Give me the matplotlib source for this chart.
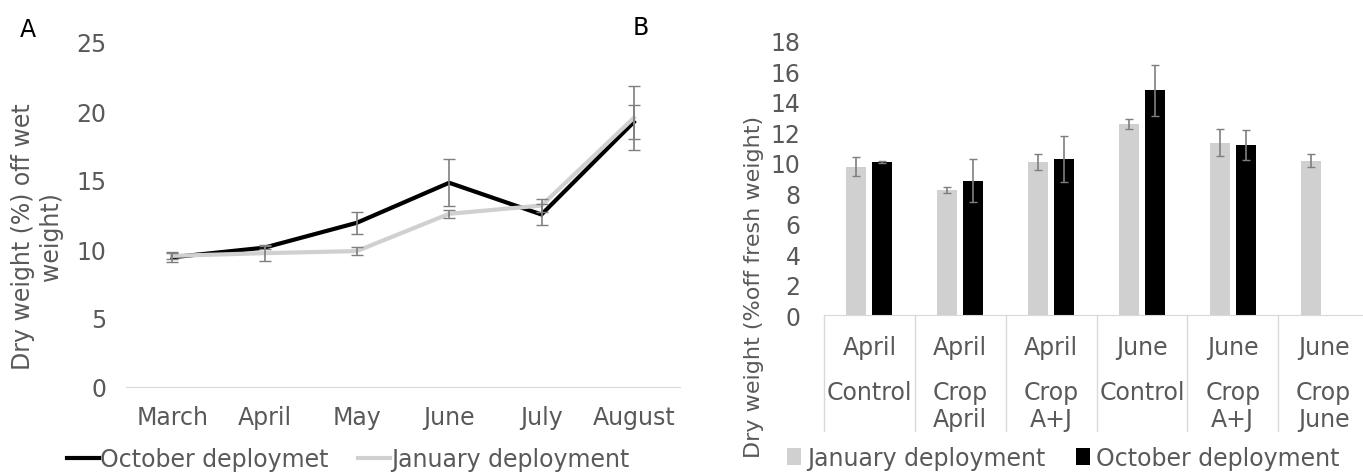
import numpy as np
import matplotlib
matplotlib.use('Agg')
from matplotlib import pyplot as plt
from matplotlib import transforms

# panel A data
months = ['March', 'April', 'May', 'June', 'July', 'August']
oct_vals = [9.4, 10.1, 11.9, 14.8, 12.5, 19.2]
oct_err = [0.35, 0.1, 0.8, 1.7, 0.75, 1.2]
jan_vals = [9.5, 9.7, 9.85, 12.55, 13.15, 19.5]
jan_err = [0.2, 0.6, 0.3, 0.3, 0.5, 2.3]

# panel B data
cat_top = ['April', 'April', 'April', 'June', 'June', 'June']
cat_mid = ['Control', 'Crop', 'Crop', 'Control', 'Crop', 'Crop']
cat_bot = ['', 'April', 'A+J', '', 'A+J', 'June']
jan_bar = [9.75, 8.23, 10.05, 12.55, 11.33, 10.12]
jan_bar_err = [0.6, 0.2, 0.5, 0.33, 0.9, 0.43]
oct_bar = [10.05, 8.82, 10.25, 14.75, 11.15, np.nan]
oct_bar_err = [0.08, 1.4, 1.5, 1.7, 1.0, np.nan]

W, H = 1363, 477
txt = '#595959'
fs = 17
light = '#d0d0d0'
errc = '#7f7f7f'

plt.rcParams['font.family'] = 'DejaVu Sans'
fig = plt.figure(figsize=(W / 100, H / 100), dpi=100)

# ---- panel A: line chart
ax1 = fig.add_axes([126 / W, 1 - 388 / H, 554 / W, 345 / H])
x = np.arange(len(months))
l_oct, = ax1.plot(x, oct_vals, color='black', lw=3, solid_joinstyle='miter')
l_jan, = ax1.plot(x, jan_vals, color=light, lw=3, solid_joinstyle='miter')
ax1.errorbar(x, oct_vals, yerr=oct_err, fmt='none', ecolor=errc, elinewidth=1.2, capsize=4)
ax1.errorbar(x, jan_vals, yerr=jan_err, fmt='none', ecolor=errc, elinewidth=1.2, capsize=4)
ax1.set_xlim(-0.5, 5.5)
ax1.set_ylim(0, 25)
ax1.set_yticks(range(0, 26, 5))
ax1.set_xticks(x)
ax1.set_xticklabels(months)
for s in ['top', 'right', 'left']:
    ax1.spines[s].set_visible(False)
ax1.spines['bottom'].set_color('#d9d9d9')
ax1.tick_params(length=0, labelsize=fs, labelcolor=txt)
ax1.tick_params(axis='x', pad=13)
ax1.tick_params(axis='y', pad=14)
ax1.legend(handles=[l_oct, l_jan], labels=['October deploymet', 'January deployment'],
           loc='center left', bbox_to_anchor=(67 / W, 1 - 460 / H),
           bbox_transform=fig.transFigure, ncol=2, frameon=False, fontsize=fs,
           labelcolor=txt, handlelength=1.35, handletextpad=0.05, columnspacing=1.25,
           borderpad=0, borderaxespad=0)
fig.text(37 / W, 1 - 237 / H, 'Dry weight (%) off wet\nweight)', rotation=90,
         ha='center', va='center', multialignment='center', fontsize=fs, color=txt,
         linespacing=1.25)

# ---- panel B: bar chart
ax2 = fig.add_axes([824 / W, 1 - 316 / H, 545 / W, 274 / H])
xb = np.arange(len(cat_top))
bw = 0.22
off = 0.143
b_jan = ax2.bar(xb - off, jan_bar, bw, color=light)
b_oct = ax2.bar(xb + off, oct_bar, bw, color='black')
ax2.errorbar(xb - off, jan_bar, yerr=jan_bar_err, fmt='none', ecolor=errc, elinewidth=1.2, capsize=3)
ax2.errorbar(xb + off, oct_bar, yerr=oct_bar_err, fmt='none', ecolor=errc, elinewidth=1.2, capsize=3)
ax2.set_xlim(-0.5, 5.5)
ax2.set_ylim(0, 18)
ax2.set_yticks(range(0, 19, 2))
ax2.set_xticks([])
for s in ['top', 'right', 'left']:
    ax2.spines[s].set_visible(False)
ax2.spines['bottom'].set_color('#d9d9d9')
ax2.tick_params(length=0, labelsize=fs, labelcolor=txt)
ax2.tick_params(axis='y', pad=17)

tr = transforms.blended_transform_factory(ax2.transData, ax2.transAxes)
for b in np.arange(-0.5, 6.0, 1.0):
    ax2.plot([b, b], [0, -116 / 274], transform=tr, color='#d9d9d9', lw=1, clip_on=False)
for i in xb:
    ax2.text(i, -32 / 274, cat_top[i], transform=tr, ha='center', va='center', fontsize=fs, color=txt)
    ax2.text(i, -77 / 274, cat_mid[i], transform=tr, ha='center', va='center', fontsize=fs, color=txt)
    ax2.text(i, -104 / 274, cat_bot[i], transform=tr, ha='center', va='center', fontsize=fs, color=txt)

ax2.legend(handles=[b_jan, b_oct], labels=['January deployment', 'October deployment'],
           loc='center left', bbox_to_anchor=(787 / W, 1 - 459 / H),
           bbox_transform=fig.transFigure, ncol=2, frameon=False, fontsize=fs,
           labelcolor=txt, handlelength=0.6, handleheight=0.7, handletextpad=0.25,
           columnspacing=1.3, borderpad=0, borderaxespad=0)
fig.text(754 / W, 1 - 116 / H, 'Dry weight (%off fresh weight)', rotation=90,
         ha='center', va='top', fontsize=16, color=txt)

fig.text(28 / W, 1 - 30 / H, 'A', ha='center', va='center', fontsize=fs, color='black')
fig.text(641 / W, 1 - 28 / H, 'B', ha='center', va='center', fontsize=fs, color='black')

fig.savefig('out.png', dpi=100)
